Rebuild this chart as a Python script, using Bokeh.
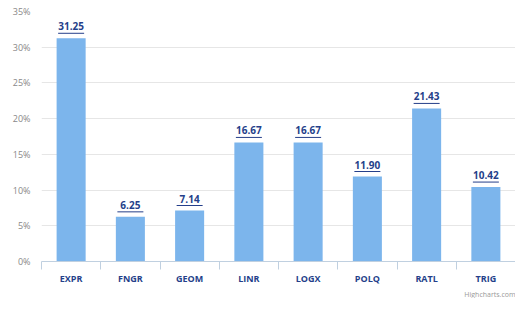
from bokeh.plotting import figure
from bokeh.models import ColumnDataSource, FixedTicker, PrintfTickFormatter, Title, LinearAxis
from bokeh.transform import dodge
from bokeh.core.properties import value
from bokeh.embed import file_html
from bokeh.resources import INLINE

categories = ["EXPR", "FNGR", "GEOM", "LINR", "LOGX", "POLQ", "RATL", "TRIG"]
values = [31.25, 6.25, 7.14, 16.67, 16.67, 11.90, 21.43, 10.42]
y_ticks = [0, 5, 10, 15, 20, 25, 30, 35]

positions = [i + 0.5 for i in range(len(categories))]
labels = ["%.2f" % v for v in values]

src = ColumnDataSource(dict(x=positions, val=values, label=labels, cat=categories))

p = figure(width=515, height=298, output_backend="svg", toolbar_location=None,
           x_range=(0, len(categories)), y_range=(0, 35),
           min_border_left=41, min_border_right=0, min_border_top=11, min_border_bottom=0,
           x_axis_location=None, y_axis_location=None)
p.outline_line_color = None
p.background_fill_color = "white"
p.border_fill_color = "white"

# y axis
yax = LinearAxis(ticker=FixedTicker(ticks=y_ticks),
                 formatter=PrintfTickFormatter(format="%d%%"))
yax.axis_line_color = None
yax.major_tick_line_color = None
yax.minor_tick_line_color = None
yax.major_tick_out = 0
yax.major_tick_in = 0
yax.major_label_text_font = "Open Sans"
yax.major_label_text_font_size = "9px"
yax.major_label_text_color = "#888888"
yax.major_label_standoff = 11
p.add_layout(yax, "left")

# x axis
xax = LinearAxis(ticker=FixedTicker(ticks=positions, minor_ticks=list(range(len(categories) + 1))))
xax.major_label_overrides = {pos: c for pos, c in zip(positions, categories)}
xax.axis_line_color = "#C0D0E0"
xax.major_tick_line_color = None
xax.major_tick_out = 0
xax.major_tick_in = 0
xax.minor_tick_line_color = "#C0D0E0"
xax.minor_tick_out = 8
xax.minor_tick_in = 0
xax.major_label_text_font = "Open Sans"
xax.major_label_text_font_style = "bold"
xax.major_label_text_font_size = "9px"
xax.major_label_text_color = "#253f8a"
xax.major_label_standoff = 2
p.add_layout(xax, "below")

credit = Title(text="Highcharts.com", align="right", text_font="Open Sans",
               text_font_size="7px", text_font_style="normal", text_color="#999999",
               standoff=0, offset=0)
p.add_layout(credit, "below")

p.ygrid.ticker = FixedTicker(ticks=y_ticks)
p.ygrid.grid_line_color = "#e6e6e6"
p.xgrid.grid_line_color = None

p.vbar(x="x", top="val", width=0.49, source=src, fill_color="#7CB5EC", line_color=None)

p.text(x="x", y="val", text="label", source=src, text_align="center",
       text_baseline="middle", y_offset=-12,
       text_font=value("Open Sans"), text_font_style="bold",
       text_font_size="10px", text_color="#253f8a")
p.scatter(x="x", y=dodge("val", 0.7, range=p.y_range), source=src, marker="dash",
          size=26, line_color="#253f8a", line_width=1)

open("out.html", "w").write(file_html(p, INLINE))
